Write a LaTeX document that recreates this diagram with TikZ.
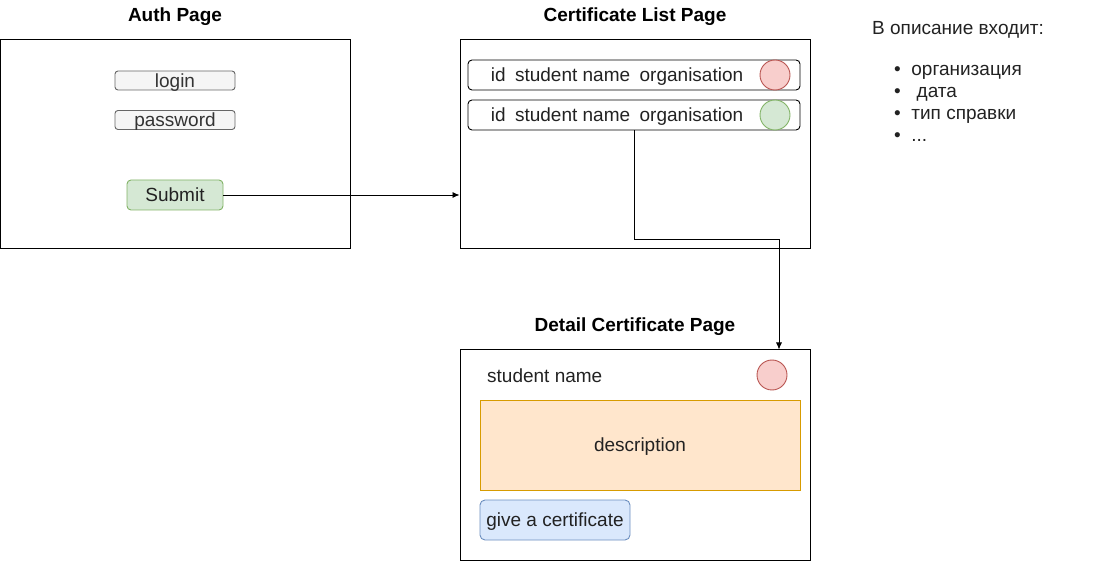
\documentclass[tikz,border=0pt]{standalone}
\usepackage{fontspec}
\setmainfont{Liberation Sans}
\usepackage{xcolor}
\usetikzlibrary{arrows.meta}
\definecolor{fieldfill}{HTML}{F5F5F5}
\definecolor{fielddraw}{HTML}{666666}
\definecolor{fieldtext}{HTML}{333333}
\definecolor{okfill}{HTML}{D5E8D4}
\definecolor{okdraw}{HTML}{82B366}
\definecolor{badfill}{HTML}{F8CECC}
\definecolor{baddraw}{HTML}{B85450}
\definecolor{descfill}{HTML}{FFE6CC}
\definecolor{descdraw}{HTML}{D79B00}
\definecolor{btnfill}{HTML}{DAE8FC}
\definecolor{btndraw}{HTML}{6C8EBF}
\definecolor{txtgray}{HTML}{222222}

\begin{document}
\begin{tikzpicture}[x=1pt, y=-1pt, font=\fontsize{19}{22}\selectfont,
    label text/.style={text height=16pt, text depth=2.5pt},
    page/.style={draw, line width=1pt, inner sep=0pt, minimum width=350pt},
    title/.style={label text, font=\fontsize{19}{22}\selectfont\bfseries},
    field/.style={label text, draw=fielddraw, fill=fieldfill, text=fieldtext, line width=0.9pt, rounded corners=3pt, inner sep=0pt, minimum width=120pt, minimum height=19pt},
    row/.style={draw, line width=0.9pt, rounded corners=4pt, inner sep=0pt, minimum width=332pt, minimum height=30pt},
    lamp/.style={circle, draw, line width=0.9pt, inner sep=0pt, minimum size=30pt},
    link/.style={-{Latex[length=7pt,width=6pt]}, line width=0.8pt}]
    \useasboundingbox (0,0) rectangle (1101,561);

    % Auth page
    \node[title] (authtitle) at (175,15) {Auth Page};
    \node[page, minimum height=209pt] (authpage) at (175,144.5) {};
    \node[field] (login) at (175,80.5) {login};
    \node[field] (password) at (175,120) {password};
    \node[label text, draw=okdraw, fill=okfill, text=txtgray, line width=0.9pt, rounded corners=4pt, inner sep=0pt,
        minimum width=96pt, minimum height=30pt] (submit) at (175,195) {Submit};

    % Certificate list page
    \node[title] (listtitle) at (635,15) {Certificate List Page};
    \node[page, minimum height=209pt] (listpage) at (635,144.5) {};
    \node[row] (rowa) at (634,75) {};
    \node[label text, text=txtgray] (rowatext) at (617,75) {id\enspace student name\enspace organisation};
    \node[lamp, draw=baddraw, fill=badfill] (rowalamp) at (775,75) {};
    \node[row] (rowb) at (634,115) {};
    \node[label text, text=txtgray] (rowbtext) at (617,115) {id\enspace student name\enspace organisation};
    \node[lamp, draw=okdraw, fill=okfill] (rowblamp) at (775,115) {};

    % Detail certificate page
    \node[title] (detailtitle) at (635,325) {Detail Certificate Page};
    \node[page, minimum height=210pt] (detailpage) at (635,455) {};
    \node[label text, text=txtgray, anchor=west, inner sep=0pt] (studentname) at (487,376) {student name};
    \node[lamp, draw=baddraw, fill=badfill] (detaillamp) at (772,375) {};
    \node[label text, draw=descdraw, fill=descfill, text=txtgray, line width=0.9pt, inner sep=0pt,
        minimum width=320pt, minimum height=90pt] (description) at (640,445) {description};
    \node[label text, draw=btndraw, fill=btnfill, text=txtgray, line width=0.9pt, rounded corners=5pt, inner sep=0pt,
        minimum width=150pt, minimum height=40pt] (givebtn) at (555,520) {give a certificate};

    % Note on the description
    \node[label text, text=txtgray, anchor=west, inner sep=0pt] (notehead) at (872,28) {В описание входит:};
    \node[text=txtgray, anchor=north west, inner sep=0pt, align=left] (notelist) at (894,65)
        {• \ организация\\• \ \ дата\\• \ тип справки\\• \ ...};

    % Connectors
    \draw[link] (submit.east) -- (submit.east -| listpage.west);
    \coordinate (turn) at (779,239);
    \draw[link] (rowb.south) |- (turn) -- (turn |- detailpage.north);
\end{tikzpicture}
\end{document}
